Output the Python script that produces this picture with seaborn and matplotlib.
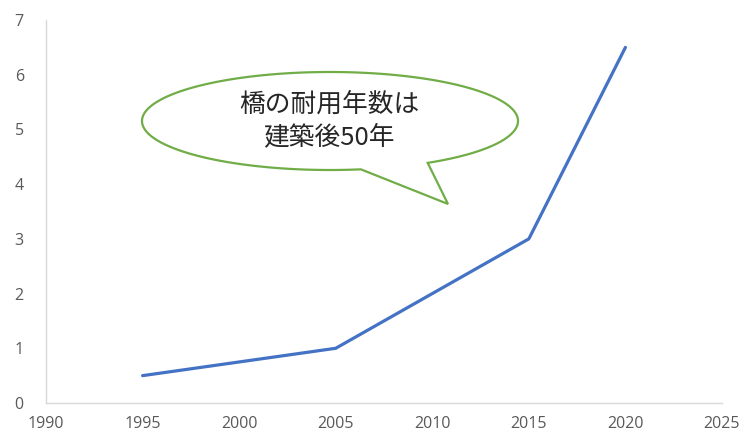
import numpy as np
import pandas as pd
import matplotlib
matplotlib.use("Agg")
import matplotlib.pyplot as plt
from matplotlib.patches import Polygon
import seaborn as sns

# Data
years = [1995, 2005, 2015, 2020]
values = [0.5, 1.0, 3.0, 6.5]
x_ticks = [1990, 1995, 2000, 2005, 2010, 2015, 2020, 2025]
y_ticks = [0, 1, 2, 3, 4, 5, 6, 7]
callout_text = "橋の耐用年数は\n建築後50年"

sns.set_theme(style="white")
plt.rcParams["font.family"] = ["Open Sans", "Noto Sans CJK JP", "DejaVu Sans"]

W, H = 740, 434
fig = plt.figure(figsize=(W / 100, H / 100), dpi=100)
ax = fig.add_axes([46 / W, 1 - 403 / H, (722 - 46) / W, (403 - 20) / H])

df = pd.DataFrame({"year": years, "value": values})
sns.lineplot(data=df, x="year", y="value", ax=ax, color="#4472C4",
             linewidth=2.3, solid_capstyle="round")

ax.set_xlim(1990, 2025)
ax.set_ylim(0, 7)
ax.set_xticks(x_ticks)
ax.set_yticks(y_ticks)
ax.set_xlabel("")
ax.set_ylabel("")
ax.tick_params(axis="both", length=0, labelsize=11.5, labelcolor="#595959")
ax.tick_params(axis="x", pad=9)
ax.tick_params(axis="y", pad=16)
for side in ["top", "right"]:
    ax.spines[side].set_visible(False)
for side in ["left", "bottom"]:
    ax.spines[side].set_color("#D9D9D9")
    ax.spines[side].set_linewidth(1.0)

# Speech-bubble callout (pixel layout converted to figure fraction)
cx, cy, a, b = 330.0, 121.0, 188.0, 49.0
base_start = (360.0, 168.0)
tip = (448.0, 204.0)
base_end = (428.0, 163.0)

def angle_of(p):
    return np.arctan2((p[1] - cy) / b, (p[0] - cx) / a)

t_start = angle_of(base_start)
t_end = angle_of(base_end)
# long way round the ellipse, from the tail's left base to its right base
ts = np.linspace(t_start, t_end + 2 * np.pi, 500)
pts = [(cx + a * np.cos(t), cy + b * np.sin(t)) for t in ts]
pts.append(tip)
pts_fig = [(x / W, 1 - y / H) for x, y in pts]
bubble = Polygon(pts_fig, closed=True, transform=fig.transFigure,
                 facecolor="white", edgecolor="#70AD47", linewidth=1.6,
                 joinstyle="miter", zorder=5)
fig.patches.append(bubble)

fig.text(329 / W, 1 - 121 / H, callout_text, ha="center", va="center",
         fontsize=18.5, color="#262626", linespacing=1.3,
         family=["Noto Sans CJK JP", "DejaVu Sans"], zorder=6)

fig.savefig("out.png", dpi=100, facecolor="white")
